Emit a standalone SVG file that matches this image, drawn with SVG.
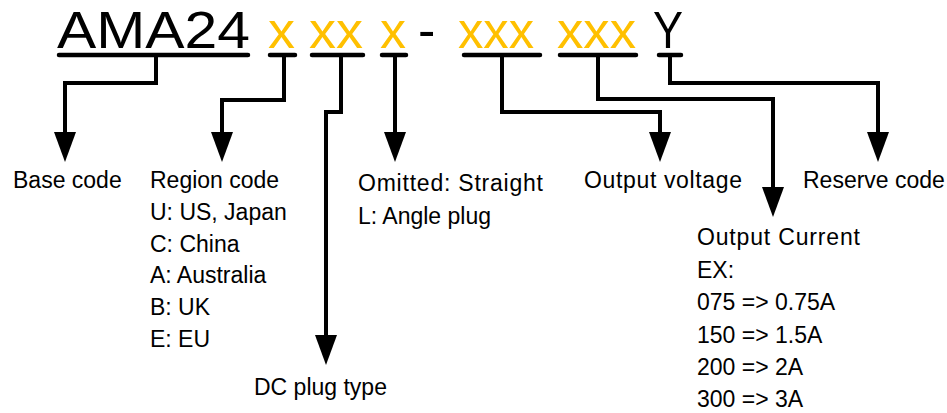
<svg xmlns="http://www.w3.org/2000/svg" width="947" height="413" viewBox="0 0 947 413">
<style>
.t{font-family:"Liberation Sans",Arial,sans-serif;font-size:52px;}
.k{fill:#000;}
.y{fill:#FFC000;}
.ul{stroke:#000;stroke-width:4.5;stroke-linecap:round;fill:none;}
.c{stroke:#000;stroke-width:4;fill:none;stroke-linejoin:miter;}
.lb{font-family:"Liberation Sans",Arial,sans-serif;font-size:23px;fill:#000;}
</style>
<defs>
<marker id="ah" markerUnits="userSpaceOnUse" markerWidth="32" markerHeight="24" viewBox="0 -12 32 24" refX="2" refY="0" orient="auto">
<path d="M0,-11 L30,0 L0,11 z" fill="#000"/>
</marker>
</defs>
<rect width="947" height="413" fill="#fff"/>
<g id="code">
<text class="t k" x="57" y="47.5" textLength="193" lengthAdjust="spacingAndGlyphs">AMA24</text>
<text class="t y" x="268" y="47.5" textLength="27" lengthAdjust="spacingAndGlyphs">x</text>
<text class="t y" x="309" y="47.5" textLength="54" lengthAdjust="spacingAndGlyphs">xx</text>
<text class="t y" x="380" y="47.5" textLength="26" lengthAdjust="spacingAndGlyphs">x</text>
<text class="t k" x="418" y="47.5">-</text>
<text class="t y" x="458" y="47.5" textLength="76" lengthAdjust="spacingAndGlyphs">xxx</text>
<text class="t y" x="557" y="47.5" textLength="79" lengthAdjust="spacingAndGlyphs">xxx</text>
<text class="t k" x="653" y="47.5" textLength="30" lengthAdjust="spacingAndGlyphs">Y</text>
<path class="ul" d="M59,55 H248 M270,55 H295 M312,55 H363 M382,55 H406 M464,55 H540 M560,55 H636 M659,55 H681"/>
</g>
<g id="connectors">
<path class="c" d="M156,55 V83 H65 V134" marker-end="url(#ah)"/>
<path class="c" d="M284,55 V100 H222 V134" marker-end="url(#ah)"/>
<path class="c" d="M341,55 V112 H326 V337" marker-end="url(#ah)"/>
<path class="c" d="M395,55 V134" marker-end="url(#ah)"/>
<path class="c" d="M502,55 V112 H660 V134" marker-end="url(#ah)"/>
<path class="c" d="M598,55 V99 H773 V189" marker-end="url(#ah)"/>
<path class="c" d="M670,55 V83 H878 V134" marker-end="url(#ah)"/>
</g>
<g id="base-code"><text class="lb" x="13" y="188">Base code</text></g>
<g id="region-code">
<text class="lb" x="150" y="188">Region code</text>
<text class="lb" x="150" y="220">U: US, Japan</text>
<text class="lb" x="150" y="252">C: China</text>
<text class="lb" x="150" y="283">A: Australia</text>
<text class="lb" x="150" y="315">B: UK</text>
<text class="lb" x="150" y="347">E: EU</text>
</g>
<g id="dc-plug-type"><text class="lb" x="254" y="395">DC plug type</text></g>
<g id="plug-angle">
<text class="lb" x="358" y="191" textLength="185">Omitted: Straight</text>
<text class="lb" x="358" y="224">L: Angle plug</text>
</g>
<g id="output-voltage"><text class="lb" x="584" y="188" textLength="158">Output voltage</text></g>
<g id="output-current">
<text class="lb" x="697" y="245" textLength="163">Output Current</text>
<text class="lb" x="697" y="278">EX:</text>
<text class="lb" x="697" y="310">075 =&gt; 0.75A</text>
<text class="lb" x="697" y="343">150 =&gt; 1.5A</text>
<text class="lb" x="697" y="375">200 =&gt; 2A</text>
<text class="lb" x="697" y="407">300 =&gt; 3A</text>
</g>
<g id="reserve-code"><text class="lb" x="803" y="188">Reserve code</text></g>
</svg>
